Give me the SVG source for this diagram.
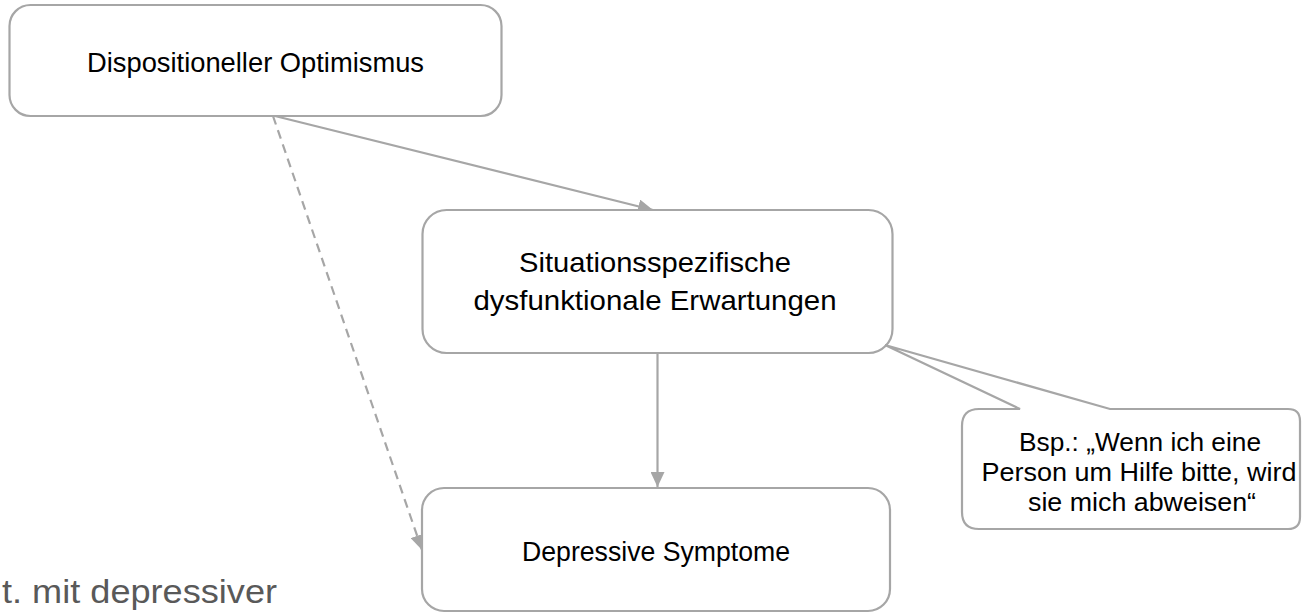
<svg xmlns="http://www.w3.org/2000/svg" width="1302" height="613" viewBox="0 0 1302 613">
<style>
.box{fill:#ffffff;stroke:#a6a6a6;stroke-width:2.2}
.lbl{font-family:"Liberation Sans",Arial,sans-serif;fill:#000000;text-anchor:middle}
.big{font-size:27.5px}
.mid{font-size:28px}
.small{font-size:25px}
.edge{stroke:#a6a6a6;stroke-width:2.2;fill:none}
.dash{stroke-dasharray:9 6}
</style>
<defs>
<marker id="ah" markerUnits="userSpaceOnUse" markerWidth="16" markerHeight="14" refX="15" refY="7" orient="auto">
<path d="M0,0 L15,7 L0,14 Z" fill="#a6a6a6"/>
</marker>
</defs>
<rect width="1302" height="613" fill="#ffffff"/>
<g id="connectors">
<line class="edge" x1="275" y1="116" x2="653" y2="210" marker-end="url(#ah)"/>
<line class="edge dash" x1="273" y1="116" x2="422" y2="550" marker-end="url(#ah)"/>
<line class="edge" x1="657.5" y1="353" x2="657.5" y2="487" marker-end="url(#ah)"/>
</g>
<g id="node-optimismus">
<rect class="box" x="9.5" y="5" width="492" height="111" rx="21"/>
<text class="lbl big" x="255.5" y="72" textLength="337" lengthAdjust="spacingAndGlyphs">Dispositioneller Optimismus</text>
</g>
<g id="node-erwartungen">
<rect class="box" x="422.5" y="210" width="470" height="143" rx="24"/>
<text class="lbl mid" x="655" y="272" textLength="272" lengthAdjust="spacingAndGlyphs">Situationsspezifische</text>
<text class="lbl mid" x="655" y="310" textLength="363" lengthAdjust="spacingAndGlyphs">dysfunktionale Erwartungen</text>
</g>
<g id="node-symptome">
<rect class="box" x="422" y="488" width="468" height="123" rx="22"/>
<text class="lbl big" x="656" y="561" textLength="268" lengthAdjust="spacingAndGlyphs">Depressive Symptome</text>
</g>
<g id="node-beispiel">
<path class="box" d="M979,409 L1020,409 L885,345 L1110,409 L1288,409 Q1300,409 1300,421 L1300,517 Q1300,529 1288,529 L979,529 Q962,529 962,512 L962,426 Q962,409 979,409 Z"/>
<text class="lbl small" x="1140" y="451" textLength="242" lengthAdjust="spacingAndGlyphs">Bsp.: „Wenn ich eine</text>
<text class="lbl small" x="1139" y="481" textLength="315" lengthAdjust="spacingAndGlyphs">Person um Hilfe bitte, wird</text>
<text class="lbl small" x="1142" y="511" textLength="228" lengthAdjust="spacingAndGlyphs">sie mich abweisen“</text>
</g>
<text x="2" y="603" font-family="Liberation Sans,Arial,sans-serif" font-size="34" fill="#595959" textLength="275" lengthAdjust="spacingAndGlyphs">t. mit depressiver</text>
</svg>
